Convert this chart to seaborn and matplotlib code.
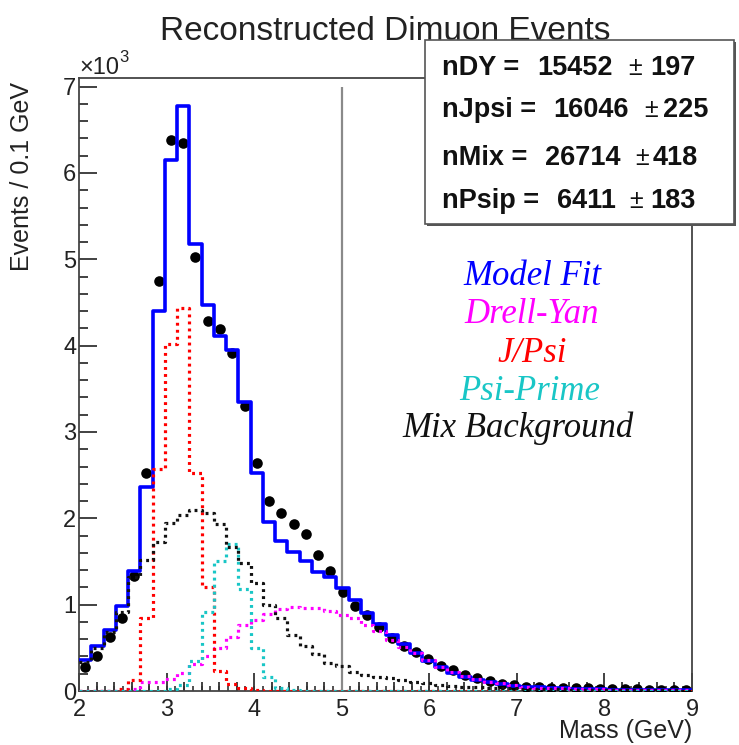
import numpy as np
import matplotlib
matplotlib.use("Agg")
import matplotlib.pyplot as plt
import seaborn as sns
from matplotlib.patches import Rectangle
from matplotlib.ticker import MultipleLocator

# ---------------- data (counts in units of 10^3 per bin) ----------------
mass_lo, mass_hi, n_bins = 2.0, 9.0, 50

data_counts = [0.28, 0.41, 0.62, 0.84, 1.33, 2.52, 4.75, 6.38, 6.35, 5.03,
               4.28, 4.19, 3.91, 3.30, 2.64, 2.20, 2.06, 1.94, 1.82, 1.58,
               1.39, 1.15, 0.985, 0.875, 0.745, 0.61, 0.52, 0.45, 0.375, 0.29,
               0.24, 0.18, 0.145, 0.115, 0.085, 0.065, 0.05, 0.045, 0.04, 0.035,
               0.03, 0.03, 0.025, 0.02, 0.02, 0.02, 0.015, 0.015, 0.01, 0.01]

model_fit = [0.36, 0.52, 0.71, 0.98, 1.39, 2.36, 4.40, 6.15, 6.77, 5.18,
             4.47, 4.11, 3.95, 3.35, 2.53, 1.96, 1.74, 1.61, 1.50, 1.38,
             1.32, 1.19, 1.05, 0.90, 0.78, 0.65, 0.545, 0.44, 0.35, 0.28,
             0.21, 0.16, 0.13, 0.10, 0.08, 0.06, 0.05, 0.042, 0.036, 0.03,
             0.026, 0.022, 0.019, 0.016, 0.014, 0.012, 0.011, 0.01, 0.009, 0.008]

drell_yan = [0.0, 0.0, 0.0, 0.0, 0.02, 0.10, 0.10, 0.14, 0.21, 0.31,
             0.40, 0.50, 0.62, 0.76, 0.82, 0.89, 0.95, 0.97, 0.965, 0.965,
             0.93, 0.88, 0.845, 0.76, 0.69, 0.59, 0.51, 0.44, 0.36, 0.28,
             0.22, 0.17, 0.14, 0.11, 0.09, 0.07, 0.05, 0.04, 0.035, 0.03,
             0.025, 0.02, 0.02, 0.015, 0.015, 0.01, 0.01, 0.01, 0.008, 0.008]

jpsi = [0.0, 0.0, 0.0, 0.02, 0.13, 0.85, 2.57, 4.02, 4.44, 2.52,
        1.21, 0.23, 0.08, 0.03, 0.01, 0.005, 0.0, 0.0, 0.0, 0.0,
        0.0, 0.0, 0.0, 0.0, 0.0, 0.0, 0.0, 0.0, 0.0, 0.0,
        0.0, 0.0, 0.0, 0.0, 0.0, 0.0, 0.0, 0.0, 0.0, 0.0,
        0.0, 0.0, 0.0, 0.0, 0.0, 0.0, 0.0, 0.0, 0.0, 0.0]

psi_prime = [0.0, 0.0, 0.0, 0.0, 0.0, 0.0, 0.0, 0.02, 0.07, 0.35,
             0.91, 1.50, 1.70, 1.18, 0.50, 0.16, 0.04, 0.01, 0.0, 0.0,
             0.0, 0.0, 0.0, 0.0, 0.0, 0.0, 0.0, 0.0, 0.0, 0.0,
             0.0, 0.0, 0.0, 0.0, 0.0, 0.0, 0.0, 0.0, 0.0, 0.0,
             0.0, 0.0, 0.0, 0.0, 0.0, 0.0, 0.0, 0.0, 0.0, 0.0]

mix_bkg = [0.34, 0.50, 0.68, 0.92, 1.32, 1.52, 1.73, 1.95, 2.04, 2.10,
           2.06, 1.93, 1.67, 1.48, 1.25, 1.00, 0.85, 0.65, 0.52, 0.43,
           0.33, 0.29, 0.215, 0.185, 0.165, 0.145, 0.13, 0.11, 0.09, 0.075,
           0.06, 0.05, 0.045, 0.04, 0.035, 0.03, 0.025, 0.022, 0.02, 0.018,
           0.016, 0.014, 0.012, 0.011, 0.01, 0.009, 0.008, 0.007, 0.006, 0.005]

yield_names = ["nDY =", "nJpsi =", "nMix =", "nPsip ="]
yield_values = ["15452", "16046", "26714", "6411"]
yield_errors = ["197", "225", "418", "183"]

legend_labels = ["Model Fit", "Drell-Yan", "J/Psi", "Psi-Prime", "Mix Background"]
legend_colors = ["#0000ff", "#ff00ff", "#ff0000", "#19c6c6", "#111111"]

cut_mass, cut_top = 5.0, 7.0

# ---------------- style ----------------
sns.set_style("white")
plt.rcParams["font.family"] = ["Liberation Sans", "DejaVu Sans"]

W, H = 739, 745
fig = plt.figure(figsize=(W / 100, H / 100), dpi=100)
ax = fig.add_axes([79 / W, 54 / H, 613 / W, 613 / H])

edges = np.linspace(mass_lo, mass_hi, n_bins + 1)
centers = 0.5 * (edges[:-1] + edges[1:])
bin_list = edges.tolist()

# data points
sns.scatterplot(x=centers, y=data_counts, color="black", s=58, linewidth=0,
                marker="o", ax=ax, zorder=3)

# model fit
sns.histplot(x=centers, weights=model_fit, bins=bin_list, element="step", fill=False,
             color="#0000ff", linewidth=2.6, ax=ax, zorder=4)

# components
for vals, col in [(drell_yan, "#ff00ff"), (jpsi, "#ff0000"),
                  (psi_prime, "#19c6c6"), (mix_bkg, "#111111")]:
    sns.histplot(x=centers, weights=vals, bins=bin_list, element="step", fill=False,
                 color=col, linewidth=2.3, linestyle=(0, (0.9, 1.3)), ax=ax, zorder=5)

ax.vlines(cut_mass, 0, cut_top, color="#8a8a8a", linewidth=1.6, zorder=2)

ax.set_xlim(mass_lo, mass_hi)
ax.set_ylim(0, 7.1)

ax.xaxis.set_major_locator(MultipleLocator(1))
ax.xaxis.set_minor_locator(MultipleLocator(0.2))
ax.yaxis.set_major_locator(MultipleLocator(1))
ax.yaxis.set_minor_locator(MultipleLocator(0.2))
ax.tick_params(which="both", direction="in", color="#333333", width=1.3,
               bottom=True, left=True, top=False, right=False,
               labelsize=17, labelcolor="#222222", zorder=6)
ax.tick_params(which="major", length=13)
ax.tick_params(which="minor", length=6.5)
ax.tick_params(axis="x", which="both", pad=6)
ax.tick_params(axis="y", which="both", pad=2)

sec = ax.secondary_xaxis("bottom")
sec.xaxis.set_major_locator(MultipleLocator(0.1))
sec.tick_params(direction="in", length=3.3, width=1.2, color="#333333",
                bottom=True, labelbottom=False)
sec.spines["bottom"].set_visible(False)

for s in ax.spines.values():
    s.set_color("#444444")
    s.set_linewidth(1.3)

ax.set_ylabel("Events / 0.1 GeV", fontsize=18, color="#222222", loc="top")
ax.yaxis.set_label_coords(-0.073, 0.993)
ax.set_xlabel("Mass (GeV)", fontsize=18, color="#222222", loc="right")
ax.xaxis.set_label_coords(1.0, -0.046)
ax.grid(False)

# ---------------- figure texts ----------------
def fx(px):
    return px / W

def fy(py):
    return 1 - py / H

fig.text(fx(385), fy(40), "Reconstructed Dimuon Events", fontsize=24,
         color="#222222", ha="center", va="baseline", zorder=3)
fig.text(fx(79), fy(74), "\u00d710", fontsize=17, color="#222222",
         ha="left", va="baseline")
fig.text(fx(119), fy(62), "3", fontsize=12, color="#222222",
         ha="left", va="baseline")

# stats box with shadow
fig.patches.append(Rectangle((fx(427), fy(226)), fx(736) - fx(427), fy(42) - fy(226),
                             transform=fig.transFigure, facecolor="#555555",
                             edgecolor="none", zorder=5))
fig.patches.append(Rectangle((fx(425), fy(224)), fx(734) - fx(425), fy(40) - fy(224),
                             transform=fig.transFigure, facecolor="white",
                             edgecolor="#555555", linewidth=1.2, zorder=6))

row_base = [75, 117, 165, 208]
val_x = [537, 553, 545, 557]
pm_x = [635, 651, 642, 636]
err_x = [650, 663, 653, 650]
for i in range(4):
    fig.text(fx(442), fy(row_base[i]), yield_names[i], fontsize=19.5, fontweight="bold",
             color="#111111", ha="left", va="baseline", zorder=7)
    fig.text(fx(val_x[i]), fy(row_base[i]), yield_values[i], fontsize=19.5,
             fontweight="bold", color="#111111", ha="left", va="baseline", zorder=7)
    fig.text(fx(pm_x[i]), fy(row_base[i]), "\u00b1", fontsize=18, color="#111111",
             ha="center", va="baseline", zorder=7)
    fig.text(fx(err_x[i]), fy(row_base[i]), yield_errors[i], fontsize=19.5,
             fontweight="bold", color="#111111", ha="left", va="baseline", zorder=7)

leg_base = [285, 323, 362, 400, 437]
leg_cx = [532, 532, 532, 530, 518]
for lab, col, b, cx in zip(legend_labels, legend_colors, leg_base, leg_cx):
    fig.text(fx(cx), fy(b), lab, fontsize=25, color=col, style="italic",
             family=["Liberation Serif", "DejaVu Serif"], ha="center", va="baseline")

fig.savefig("out.png", dpi=100)
